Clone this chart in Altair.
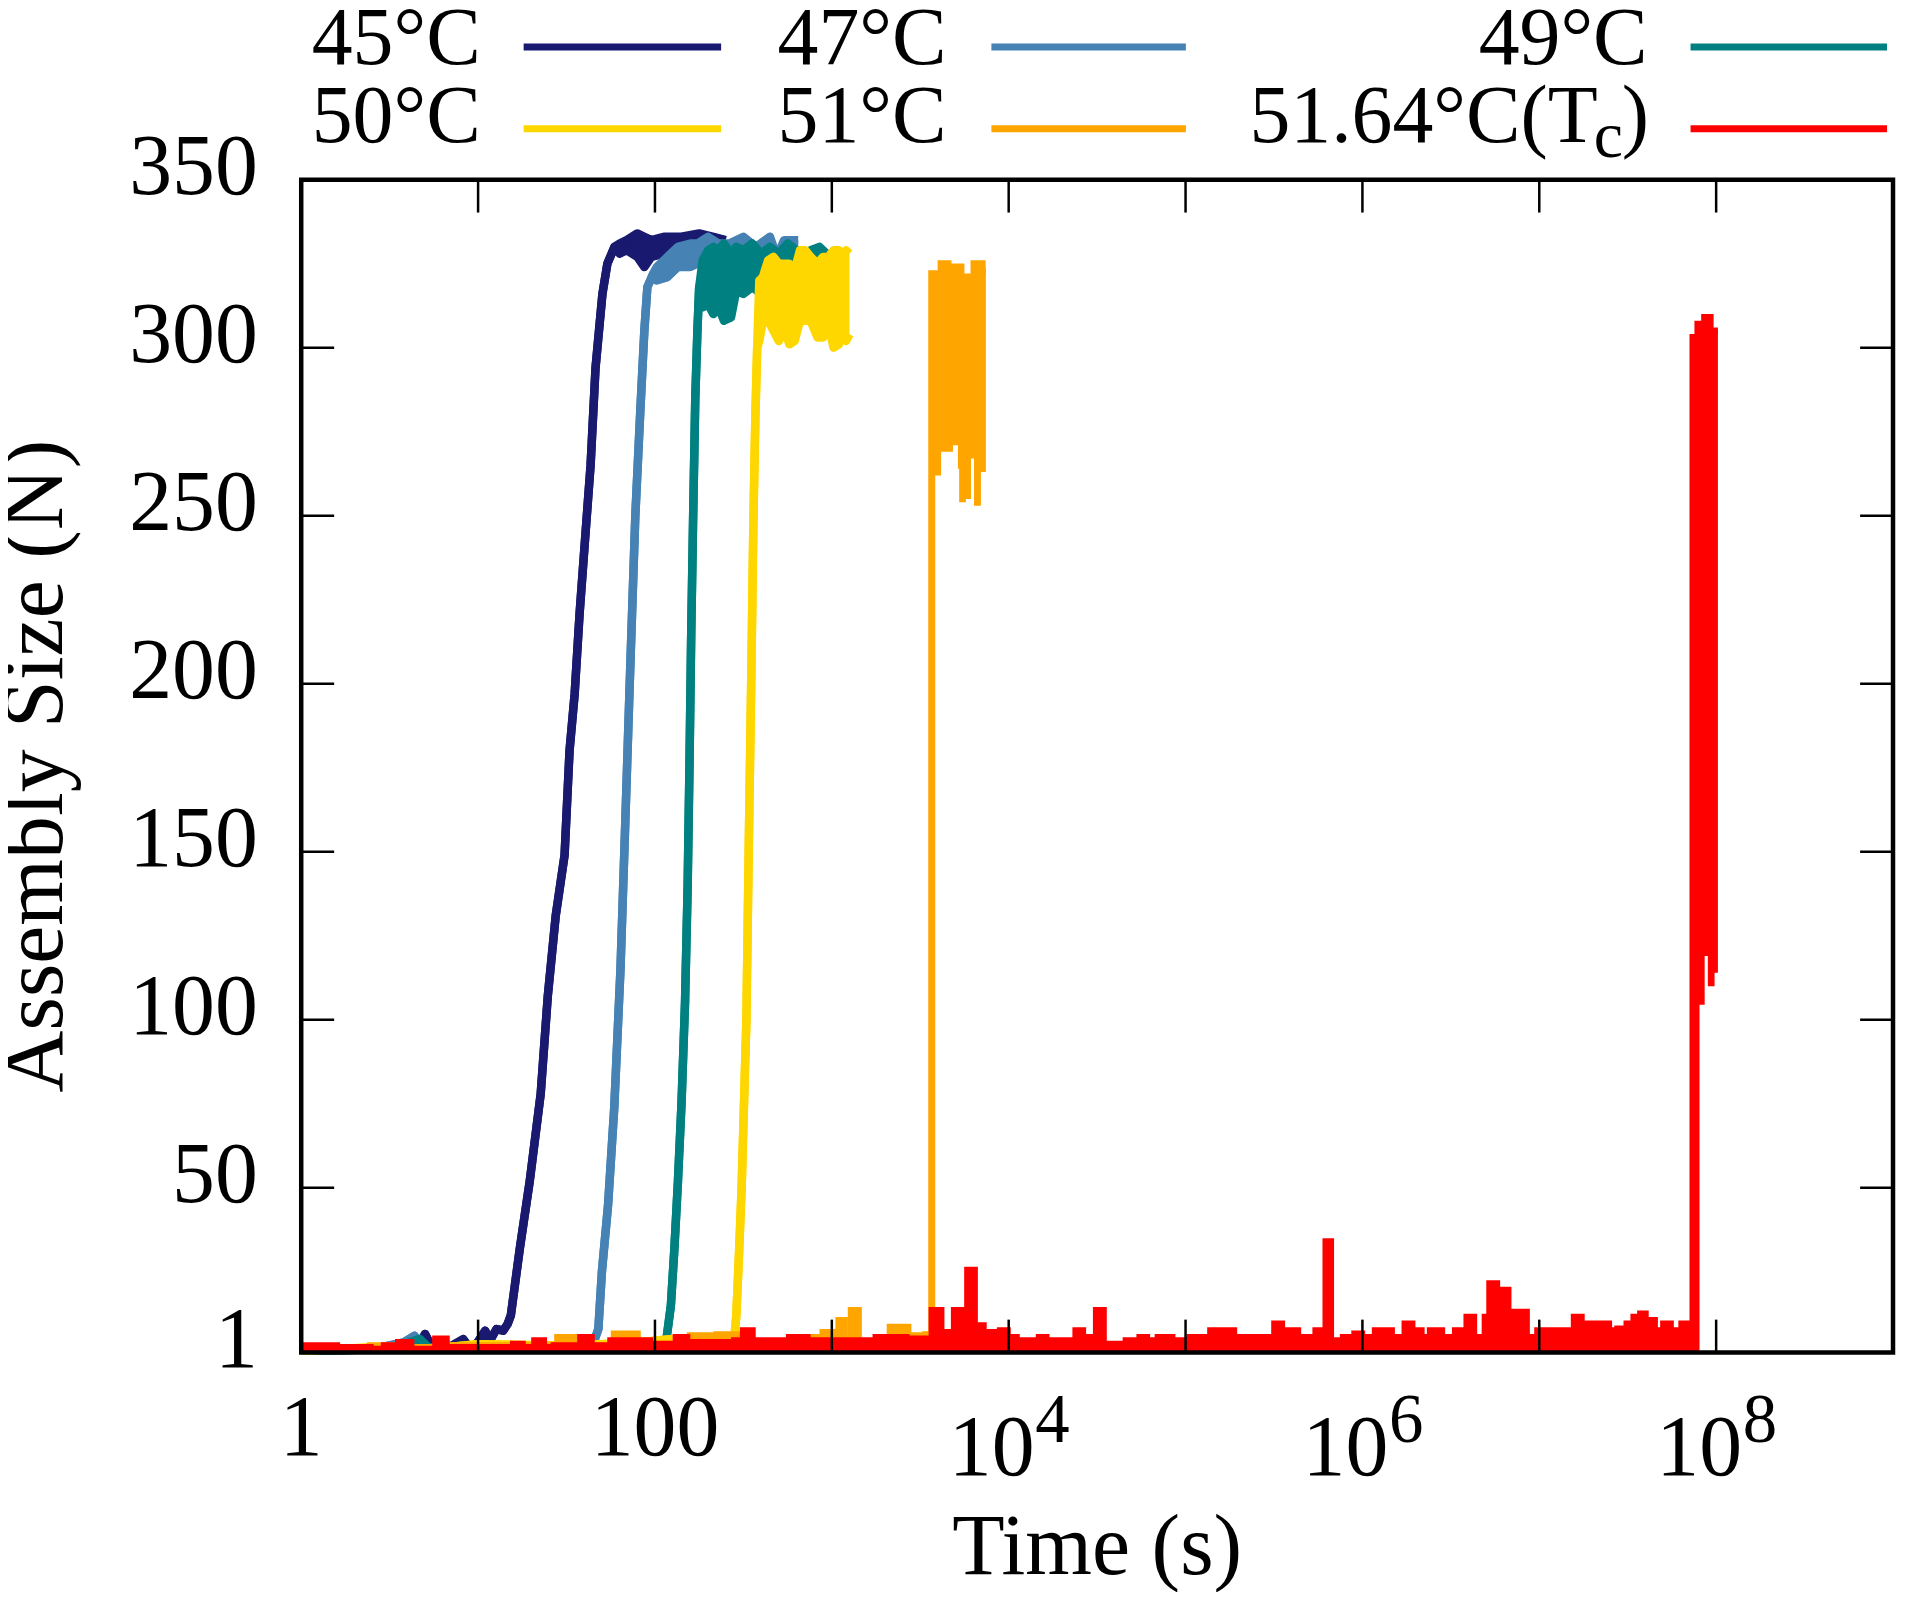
import altair as alt
import pandas as pd

# ---------------- data ----------------
names = ["45°C", "47°C", "49°C", "50°C", "51°C", "51.64°C(Tc)"]
colors = ["#191970", "#4682B4", "#008080", "#FFD700", "#FFA500", "#FF0000"]

# 45 °C : single line (log10 t, N) and noisy plateau band (log10 t, low, high)
s45_line_logt = [0, 0.3, 0.55, 0.62, 0.665, 0.70, 0.74, 0.85, 0.916, 0.95, 0.991, 1.04, 1.067,
                 1.104, 1.142, 1.167, 1.185, 1.236, 1.292, 1.354, 1.394, 1.439, 1.489, 1.517,
                 1.546, 1.574, 1.602, 1.636, 1.664, 1.703, 1.731, 1.771]
s45_line_n = [1.5, 1.8, 2.5, 4.5, 3, 6.5, 2.5, 3, 5, 2.5, 3.5, 7.5, 4.5, 8, 7.5, 9.5, 12, 32, 52,
              78, 107, 131, 149, 180, 197, 221, 241, 265, 294, 316, 325, 330]
s45_band_logt = [1.80, 1.84, 1.90, 1.94, 1.98, 2.05, 2.15, 2.25, 2.33, 2.40]
s45_band_lo = [328, 329, 327, 324, 327, 328, 329, 328, 329, 329]
s45_band_hi = [331, 332, 334, 333, 332, 333, 333, 334, 333, 332]

# 47 °C
s47_line_logt = [0, 0.4, 0.58, 0.64, 0.68, 0.9, 1.2, 1.5, 1.65, 1.68, 1.70, 1.735, 1.77, 1.805,
                 1.833, 1.861, 1.889, 1.917, 1.94, 1.957, 1.99]
s47_line_n = [1.5, 2, 4, 6, 2.5, 2.5, 3, 3, 3.5, 8, 25, 45, 74, 115, 160, 206, 250, 281, 305,
              318, 322]
s47_band_logt = [2.01, 2.07, 2.13, 2.2, 2.24, 2.3, 2.36, 2.42, 2.5, 2.57, 2.65, 2.69, 2.73, 2.81]
s47_band_lo = [320, 321, 324, 324, 325, 326, 325, 325, 326, 325, 326, 324, 325, 326]
s47_band_hi = [324, 327, 330, 331, 331, 333, 331, 331, 333, 330, 333, 327, 332, 332]

# 49 °C
s49_line_logt = [0, 0.5, 0.67, 0.72, 1.0, 1.4, 1.8, 2.06, 2.09, 2.11, 2.13, 2.15, 2.17, 2.185,
                 2.195, 2.205, 2.216, 2.228, 2.24, 2.25]
s49_line_n = [1.5, 2, 5, 2.5, 3, 3, 3.5, 3, 15, 32, 52, 75, 105, 140, 175, 215, 250, 285, 305, 318]
s49_band_logt = [2.27, 2.30, 2.33, 2.36, 2.39, 2.43, 2.46, 2.5, 2.55, 2.6, 2.65, 2.7, 2.75, 2.8,
                 2.84, 2.88, 2.93, 2.97]
s49_band_lo = [312, 313, 310, 312, 308, 309, 317, 316, 318, 316, 318, 316, 317, 318, 316, 318, 317, 318]
s49_band_hi = [326, 329, 330, 329, 331, 328, 330, 329, 331, 328, 330, 328, 331, 329, 325, 329, 330, 328]

# 50 °C
s50_line_logt = [0, 0.39, 0.7, 1.0, 1.5, 1.9, 2.1, 2.3, 2.445, 2.46, 2.475, 2.49, 2.505, 2.517,
                 2.53, 2.544, 2.557, 2.568, 2.578]
s50_line_n = [1.5, 2.5, 2, 3.5, 3, 4, 5, 4, 3, 12, 30, 50, 78, 100, 150, 200, 250, 280, 300]
s50_band_logt = [2.59, 2.61, 2.64, 2.67, 2.70, 2.735, 2.76, 2.79, 2.82, 2.85, 2.88, 2.92, 2.95,
                 2.98, 3.01, 3.04, 3.06, 3.08, 3.10]
s50_band_lo = [302, 308, 308, 305, 302, 305, 301, 302, 308, 308, 308, 303, 303, 307, 300, 301, 305, 302, 304]
s50_band_hi = [320, 321, 326, 327, 325, 325, 325, 323, 329, 329, 327, 325, 327, 327, 329, 329, 326, 329, 328]

# 51 °C : low noise envelope, then the jump and the band
s51_noise_logt = [0, 0.39, 0.55, 0.8, 1.2, 1.45, 1.6, 1.77, 1.9, 2.2, 2.35, 2.5, 2.77, 2.95, 3.04,
                  3.07, 3.11, 3.15, 3.33, 3.43, 3.53]
s51_noise_n = [2, 3, 2.5, 3, 3, 5.5, 3, 6.5, 3.5, 6, 6.3, 4, 5.5, 7, 10.5, 4, 13.5, 4, 8.5, 6, 6.3]
s51_band_logt = [3.565, 3.578, 3.618, 3.657, 3.685, 3.70, 3.713, 3.72, 3.73, 3.75, 3.758, 3.787,
                 3.804, 3.843, 3.85, 3.871]
s51_band_lo = [1, 262, 269, 269, 271, 271, 264, 254, 254, 254, 255, 267, 253, 263, 263, 263]
s51_band_hi = [322, 322, 325, 324, 323, 324, 324, 324, 320, 321, 321, 320, 325, 325, 323, 323]

# 51.64 °C (Tc)
s5164_noise_logt = [0, 0.2, 0.39, 0.47, 0.55, 0.62, 0.70, 0.76, 0.82, 1.0, 1.2, 1.25, 1.32, 1.37,
                    1.43, 1.58, 1.64, 1.75, 1.97, 2.12, 2.18, 2.2, 2.45, 2.5, 2.55, 2.76, 2.86,
                    3.25, 3.42, 3.567, 3.617, 3.693, 3.73, 3.768, 3.806, 3.856, 3.927, 3.953,
                    3.992, 4.043, 4.173, 4.211, 4.38, 4.418, 4.496, 4.535, 4.664, 4.742, 4.78,
                    4.845, 4.923, 5.026, 5.142, 5.272, 5.285, 5.362, 5.388, 5.504, 5.543, 5.582,
                    5.634, 5.737, 5.794, 5.82, 5.892, 5.957, 5.996, 6.073, 6.164, 6.241, 6.28,
                    6.293, 6.332, 6.384, 6.448, 6.526, 6.591, 6.629, 6.694, 6.72, 6.759, 6.785,
                    6.823, 6.862, 6.927, 6.991, 7.03, 7.056, 7.095, 7.134, 7.198, 7.237, 7.276,
                    7.392, 7.444, 7.496, 7.535, 7.573, 7.599, 7.651, 7.703, 7.741, 7.806, 7.84]
s5164_noise_n = [3, 2.5, 2, 3, 4, 2, 2, 5, 2.5, 2.5, 3.5, 2.5, 4.5, 2.5, 3, 5.5, 3, 4.5, 3.5,
                 5.5, 3.5, 4, 4.5, 7.5, 4.5, 5.5, 4.5, 5.5, 5, 13.5, 7, 13.5, 7, 25.5, 9, 7, 4.5,
                 7.5, 5.5, 4.5, 5.5, 4.5, 7.5, 5.5, 13.5, 3.5, 4.5, 5.5, 4.5, 5.5, 4.5, 5.5, 7.5,
                 4.5, 5.5, 4.5, 5.5, 9.5, 4.5, 7.5, 5.5, 7.5, 34, 4.5, 5.5, 6.5, 5.5, 7.5, 5.5,
                 9.5, 5.5, 7.5, 5.5, 7.5, 5.5, 7.5, 11.5, 5.5, 11.5, 21.5, 17.5, 19.5, 9.5, 13,
                 5.5, 7.5, 5.5, 7.5, 5.5, 7.5, 11.5, 7.5, 9.5, 7.5, 8, 9.5, 11.5, 12.5, 10.5, 7.5,
                 9.5, 7.5, 9.5, 6]
s5164_band_logt = [7.869, 7.897, 7.906, 7.935, 7.953, 7.966, 7.991, 8.01]
s5164_band_lo = [1, 1, 104.5, 119, 110, 110, 114, 114]
s5164_band_hi = [303, 307, 307, 309, 309, 305, 305, 305]

# axes
y_ticks = [1, 50, 100, 150, 200, 250, 300, 350]
y_inner_ticks = [50, 100, 150, 200, 250, 300]
x_decades = [10, 100, 1e3, 1e4, 1e5, 1e6, 1e7, 1e8]
x_plain_vals = [1, 100]
x_plain_labels = ["1", "100"]
x_pow_vals = [1e4, 1e6, 1e8]
x_pow_base = ["10", "10", "10"]
x_pow_exp = ["4", "6", "8"]

# ---------------- layout ----------------
W, H = 1596, 1176
FONT = "Liberation Serif"
FS = 86
FS_SMALL = 69
FS_LEG = 82
LW = 8.5

xscale = alt.Scale(type="log", domain=[1, 1e9], nice=False)
yscale = alt.Scale(domain=[1, 350], nice=False, zero=False)
yaxis = alt.Axis(values=y_ticks, title=None, ticks=False, domain=False, grid=False,
                 labelFont=FONT, labelFontSize=FS, labelColor="black", labelPadding=44,
                 labelBaseline="alphabetic", labelOffset=14, labelFlush=False,
                 labelOverlap=False)


def X(field="t"):
    return alt.X(f"{field}:Q", scale=xscale, axis=None)


def Y(field):
    return alt.Y(f"{field}:Q", scale=yscale, axis=yaxis)


def line_band_table(line_logt, line_n, band_logt, band_lo, band_hi):
    t = [10 ** e for e in line_logt] + [10 ** e for e in band_logt]
    lo = list(line_n) + list(band_lo)
    hi = list(line_n) + list(band_hi)
    return pd.DataFrame({"t": t, "lo": lo, "hi": hi})


def noise_band_table(noise_logt, noise_n, band_logt, band_lo, band_hi):
    t = [10 ** e for e in noise_logt] + [10 ** e for e in band_logt]
    lo = [1] * len(noise_n) + list(band_lo)
    hi = list(noise_n) + list(band_hi)
    return pd.DataFrame({"t": t, "lo": lo, "hi": hi})


tables = [
    line_band_table(s45_line_logt, s45_line_n, s45_band_logt, s45_band_lo, s45_band_hi),
    line_band_table(s47_line_logt, s47_line_n, s47_band_logt, s47_band_lo, s47_band_hi),
    line_band_table(s49_line_logt, s49_line_n, s49_band_logt, s49_band_lo, s49_band_hi),
    line_band_table(s50_line_logt, s50_line_n, s50_band_logt, s50_band_lo, s50_band_hi),
    noise_band_table(s51_noise_logt, s51_noise_n, s51_band_logt, s51_band_lo, s51_band_hi),
    noise_band_table(s5164_noise_logt, s5164_noise_n, s5164_band_logt, s5164_band_lo, s5164_band_hi),
]

layers = []
for i, (df, col) in enumerate(zip(tables, colors)):
    stepped = i >= 4
    interp = "step-after" if stepped else "linear"
    join = "miter" if stepped else "round"
    lw = 7 if stepped else LW
    base = alt.Chart(df)
    layers.append(base.mark_area(color=col, opacity=1, interpolate=interp)
                  .encode(x=X(), y=Y("lo"), y2="hi:Q"))
    layers.append(base.mark_line(color=col, strokeWidth=lw, interpolate=interp,
                                 strokeJoin=join, strokeCap="butt")
                  .encode(x=X(), y=Y("hi")))
    if not stepped:
        layers.append(base.mark_line(color=col, strokeWidth=lw, interpolate=interp,
                                     strokeJoin=join, strokeCap="butt")
                      .encode(x=X(), y=Y("lo")))

# inner ticks (gnuplot style, mirrored)
dec_df = pd.DataFrame({"t": x_decades})
ytk_df = pd.DataFrame({"v": y_inner_ticks})
TL = 33
layers.append(alt.Chart(dec_df).mark_rule(color="black", strokeWidth=2.5)
              .encode(x=X(), y=alt.value(0), y2=alt.value(TL)))
layers.append(alt.Chart(dec_df).mark_rule(color="black", strokeWidth=2.5)
              .encode(x=X(), y=alt.value(H), y2=alt.value(H - TL)))
layers.append(alt.Chart(ytk_df).mark_rule(color="black", strokeWidth=2.5)
              .encode(y=Y("v"), x=alt.value(0), x2=alt.value(TL)))
layers.append(alt.Chart(ytk_df).mark_rule(color="black", strokeWidth=2.5)
              .encode(y=Y("v"), x=alt.value(W - TL), x2=alt.value(W)))

# frame
one = pd.DataFrame({"k": [0]})
layers.append(alt.Chart(one).mark_rect(fillOpacity=0, stroke="black", strokeWidth=4.5)
              .encode(x=alt.value(0), x2=alt.value(W), y=alt.value(0), y2=alt.value(H)))

# x tick labels
layers.append(alt.Chart(pd.DataFrame({"t": x_plain_vals, "label": x_plain_labels}))
              .mark_text(font=FONT, fontSize=FS, align="center", baseline="alphabetic", color="black")
              .encode(x=X(), y=alt.value(H + 103), text="label:N"))
layers.append(alt.Chart(pd.DataFrame({"t": x_pow_vals, "label": x_pow_base}))
              .mark_text(font=FONT, fontSize=FS, align="center", baseline="alphabetic", color="black", dx=-17)
              .encode(x=X(), y=alt.value(H + 123), text="label:N"))
layers.append(alt.Chart(pd.DataFrame({"t": x_pow_vals, "label": x_pow_exp}))
              .mark_text(font=FONT, fontSize=FS_SMALL, align="center", baseline="alphabetic", color="black", dx=44)
              .encode(x=X(), y=alt.value(H + 90), text="label:N"))


def text_layer(txt, x, y, size=FS, align="center", angle=0):
    return (alt.Chart(pd.DataFrame({"label": [txt]}))
            .mark_text(font=FONT, fontSize=size, align=align, baseline="alphabetic",
                       color="black", angle=angle)
            .encode(x=alt.value(x), y=alt.value(y), text="label:N"))


# axis titles
layers.append(text_layer("Time (s)", W / 2, H + 222))
layers.append(text_layer("Assembly Size (N)", -240, H / 2, angle=270))

# legend (2 rows x 3 columns, label then line sample)
col_text_x = [180, 647, 1350]
col_line_x = [(223, 421), (692, 887), (1393, 1590)]
row_text_y = [-116, -38]
row_line_y = [-133, -51]
for i, (nm, col) in enumerate(zip(names, colors)):
    c, r = i % 3, i // 3
    if nm.endswith("(Tc)"):
        layers.append(text_layer(nm[:-2], col_text_x[c] - 50, row_text_y[r], size=FS_LEG, align="right"))
        layers.append(text_layer("c", col_text_x[c] - 54, row_text_y[r] + 15, size=66, align="left"))
        layers.append(text_layer(")", col_text_x[c] - 26, row_text_y[r], size=FS_LEG, align="left"))
    else:
        layers.append(text_layer(nm, col_text_x[c], row_text_y[r], size=FS_LEG, align="right"))
    x1, x2 = col_line_x[c]
    layers.append(alt.Chart(one).mark_rule(color=col, strokeWidth=7)
                  .encode(x=alt.value(x1), x2=alt.value(x2), y=alt.value(row_line_y[r])))

chart = (alt.layer(*layers)
         .properties(width=W, height=H,
                     padding={"left": 294, "top": 170, "right": 4, "bottom": 238},
                     autosize=alt.AutoSizeParams(type="none"),
                     background="white")
         .configure_view(strokeWidth=0))

chart.save("out.html", embed_options={"renderer": "svg", "actions": False})
